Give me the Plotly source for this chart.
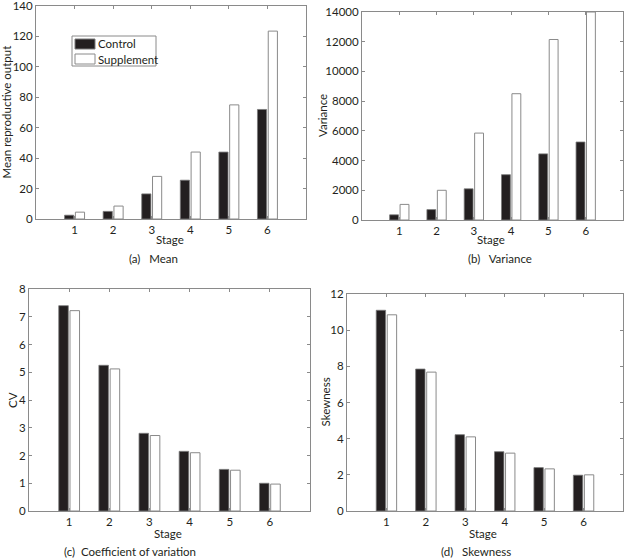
import plotly.graph_objects as go

stages = [1, 2, 3, 4, 5, 6]
series_names = ["Control", "Supplement"]

mean_control = [2.5, 5.0, 16.5, 25.5, 44.0, 72.0]
mean_supplement = [4.5, 8.5, 28.0, 44.0, 75.0, 123.5]

var_control = [350, 700, 2100, 3050, 4450, 5250]
var_supplement = [1050, 2000, 5850, 8500, 12150, 14000]

cv_control = [7.4, 5.25, 2.8, 2.15, 1.5, 1.0]
cv_supplement = [7.22, 5.12, 2.72, 2.1, 1.47, 0.97]

skew_control = [11.1, 7.85, 4.22, 3.28, 2.4, 1.98]
skew_supplement = [10.85, 7.68, 4.1, 3.2, 2.33, 2.0]

panels = [
    dict(c=mean_control, s=mean_supplement, ytitle="Mean reproductive output",
         caption="(a)   Mean", yrange=[0, 140], dtick=20),
    dict(c=var_control, s=var_supplement, ytitle="Variance",
         caption="(b)   Variance", yrange=[0, 14000], dtick=2000),
    dict(c=cv_control, s=cv_supplement, ytitle="CV",
         caption="(c)  Coefficient of variation", yrange=[0, 8], dtick=1),
    dict(c=skew_control, s=skew_supplement, ytitle="Skewness",
         caption="(d)   Skewness", yrange=[0, 12], dtick=2),
]

W, H = 626, 559
# pixel boxes: left, right, top, bottom
boxes = [(36, 306, 6, 219), (362, 623, 12, 220), (29, 310, 289, 511), (347, 623, 294, 511)]
ytitle_x = [6, 322, 12, 325]
stage_pos = [(170, 240), (491, 240), (168, 533), (483, 533)]
caption_pos = [(153, 258), (500, 258), (130, 551), (476, 551)]

TXT = "#231f20"
FRAME = "#8a8a8a"
FONT = "Lato"
CTRL_FILL = "#231f20"
CTRL_LINE = "#7a7a7a"
SUPP_FILL = "white"
SUPP_LINE = "#8a8a8a"


def px(x):
    return x / W


def py(y):
    return 1 - y / H


fig = go.Figure()
annotations = []
shapes = []
for i, p in enumerate(panels):
    n = "" if i == 0 else str(i + 1)
    xa, ya = "x" + n, "y" + n
    fig.add_trace(go.Bar(x=stages, y=p["c"], name=series_names[0], xaxis=xa, yaxis=ya,
                         marker=dict(color=CTRL_FILL, line=dict(color=CTRL_LINE, width=0.8)),
                         showlegend=False, offsetgroup="c"))
    fig.add_trace(go.Bar(x=stages, y=p["s"], name=series_names[1], xaxis=xa, yaxis=ya,
                         marker=dict(color=SUPP_FILL, line=dict(color=SUPP_LINE, width=1)),
                         showlegend=False, offsetgroup="s"))
    l, r, t, b = boxes[i]
    axcommon = dict(showline=True, linecolor=FRAME, linewidth=1, mirror="ticks",
                    ticks="inside", ticklen=3, tickcolor=FRAME, showgrid=False,
                    zeroline=False, automargin=False, ticklabeloverflow="allow",
                    tickfont=dict(family=FONT, size=11.5, color=TXT))
    fig.layout["xaxis" + n] = dict(domain=[px(l), px(r)], range=[0, 7], tickmode="array",
                                   tickvals=stages, anchor=ya, **axcommon)
    fig.layout["yaxis" + n] = dict(domain=[py(b), py(t)], range=p["yrange"],
                                   dtick=p["dtick"], tick0=0, anchor=xa, tickformat="d",
                                   **axcommon)
    annotations.append(dict(x=px(ytitle_x[i]), y=py((t + b) / 2), xref="paper", yref="paper",
                            xanchor="center", yanchor="middle",
                            text=p["ytitle"], textangle=-90, showarrow=False,
                            font=dict(family=FONT, size=11.5, color=TXT)))
    sx, sy = stage_pos[i]
    annotations.append(dict(x=px(sx), y=py(sy), xref="paper", yref="paper", text="Stage",
                            xanchor="center", yanchor="middle",
                            showarrow=False, font=dict(family=FONT, size=11.5, color=TXT)))
    cx, cy = caption_pos[i]
    annotations.append(dict(x=px(cx), y=py(cy), xref="paper", yref="paper", text=p["caption"],
                            xanchor="center", yanchor="middle",
                            showarrow=False, font=dict(family=FONT, size=11.5, color=TXT)))

# compact legend box in panel (a), as in the reference
shapes.append(dict(type="rect", xref="paper", yref="paper", x0=px(72), x1=px(156),
                   y0=py(66), y1=py(36), line=dict(color=FRAME, width=1), fillcolor="white"))
legend_items = [(series_names[0], CTRL_FILL, CTRL_LINE, 44), (series_names[1], SUPP_FILL, SUPP_LINE, 59)]
for name, fill, line, yc in legend_items:
    shapes.append(dict(type="rect", xref="paper", yref="paper", x0=px(75), x1=px(95),
                       y0=py(yc + 5), y1=py(yc - 5), line=dict(color=line, width=1),
                       fillcolor=fill))
    annotations.append(dict(x=px(96), y=py(yc), xref="paper", yref="paper", text=name,
                            xanchor="left", yanchor="middle", showarrow=False,
                            font=dict(family=FONT, size=11.5, color=TXT)))

fig.update_layout(
    width=W, height=H, margin=dict(l=0, r=0, t=0, b=0),
    paper_bgcolor="white", plot_bgcolor="white",
    barmode="group", bargap=0.44, bargroupgap=0.15,
    annotations=annotations, shapes=shapes, showlegend=False,
    font=dict(family=FONT, size=11.5, color=TXT),
)

fig.write_html("out.html", config={"displayModeBar": False},
               post_script="document.body.style.margin='0';document.body.style.overflow='hidden';")
